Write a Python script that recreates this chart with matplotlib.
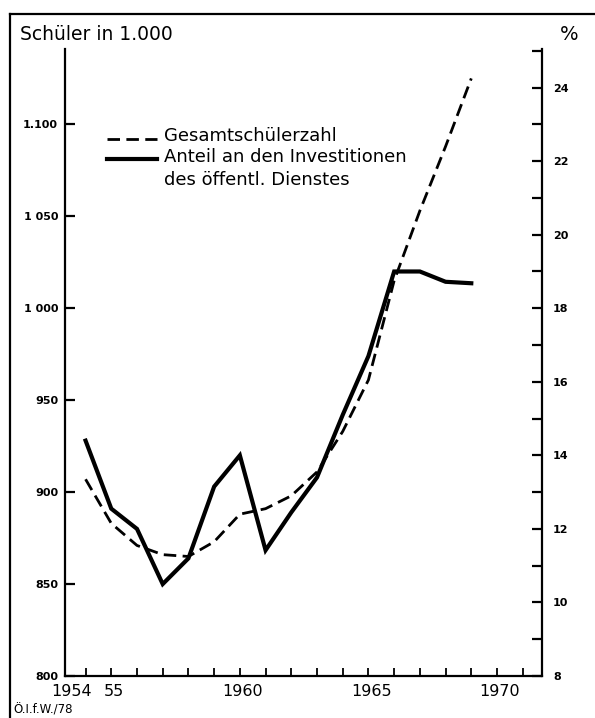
import numpy as np
import matplotlib
matplotlib.use("Agg")
import matplotlib.pyplot as plt
from matplotlib.lines import Line2D
from matplotlib.transforms import ScaledTranslation

# Data.
years = [1954, 1955, 1956, 1957, 1958, 1959, 1960, 1961,
         1962, 1963, 1964, 1965, 1966, 1967, 1968, 1969]
schueler = [907, 883, 871, 866, 865, 873, 888, 891,
            898, 911, 933, 961, 1015, 1053, 1088, 1125]  # in 1.000
anteil = [14.4, 12.55, 12.0, 10.5, 11.2, 13.15, 14.0, 11.42,
          12.45, 13.4, 15.1, 16.7, 19.0, 19.0, 18.72, 18.68]  # %

left_ticks = [800, 850, 900, 950, 1000, 1050, 1100]
left_labels = ["800", "850", "900", "950", "1 000", "1 050", "1.100"]
right_ticks = [8, 10, 12, 14, 16, 18, 20, 22, 24]
right_minor = [9, 11, 13, 15, 17, 19, 21, 23, 25]
x_ticks = list(range(1954, 1972))
x_labels = {1954: "1954", 1955: "55", 1960: "1960", 1965: "1965", 1970: "1970"}

legend_dashed = "Gesamtschülerzahl"
legend_solid = ["Anteil an den Investitionen", "des öffentl. Dienstes"]

W, H = 595, 718
fig = plt.figure(figsize=(W / 100, H / 100), dpi=100)
fig.patch.set_facecolor("white")

def fx(px):
    return px / W

def fy(py):
    return 1 - py / H

dash_style = dict(color="black", lw=2.0, dashes=(4.5, 2.3))

ax = fig.add_axes([fx(65), fy(676), fx(542) - fx(65), fy(49) - fy(676)])
ax2 = ax.twinx()

ax.plot(years, schueler, **dash_style)
ax2.plot(years, anteil, color="black", lw=3.0, solid_joinstyle="miter")

ax.set_xlim(1953.2, 1971.75)
ax.set_ylim(800, 1141)
ax2.set_ylim(8, 25.05)

for a in (ax, ax2):
    a.spines["top"].set_visible(False)
    for s in a.spines.values():
        s.set_linewidth(1.6)
ax.spines["right"].set_visible(False)
ax2.spines["left"].set_visible(False)
ax2.spines["bottom"].set_visible(False)

ax.set_yticks(left_ticks)
ax.set_yticklabels(left_labels)
ax.tick_params(axis="y", direction="in", length=7, width=1.6, pad=5,
               labelsize=8)
for t in ax.get_yticklabels():
    t.set_fontweight("bold")

ax2.set_yticks(right_ticks)
ax2.set_yticks(right_minor, minor=True)
ax2.tick_params(axis="y", which="both", direction="in", length=7, width=1.6,
                pad=8, labelsize=8)
for t in ax2.get_yticklabels():
    t.set_fontweight("bold")

ax.set_xticks(x_ticks)
ax.set_xticklabels([x_labels.get(y, "") for y in x_ticks])
ax.tick_params(axis="x", direction="in", length=6, width=1.3, pad=6,
               labelsize=11.5)
for y, t in zip(x_ticks, ax.get_xticklabels()):
    shift = -14 if y == 1954 else 3
    t.set_transform(t.get_transform() + ScaledTranslation(shift / 100, 0, fig.dpi_scale_trans))

# Axis titles
fig.text(fx(20), fy(35), "Schüler in 1.000", fontsize=13.5, ha="left", va="center")
fig.text(fx(569), fy(35), "%", fontsize=14, ha="center", va="center")
fig.text(fx(13), fy(710), "Ö.I.f.W./78", fontsize=8.5, ha="left", va="center")

# Legend drawn by hand so the solid sample sits on the first text line
fig.add_artist(Line2D([fx(107), fx(157)], [fy(139), fy(139)], **dash_style))
fig.add_artist(Line2D([fx(107), fx(157)], [fy(159), fy(159)], color="black",
                      lw=3.0))
fig.text(fx(164), fy(136), legend_dashed, fontsize=13, ha="left", va="center")
fig.text(fx(164), fy(157), legend_solid[0], fontsize=13, ha="left", va="center")
fig.text(fx(164), fy(180), legend_solid[1], fontsize=13, ha="left", va="center")

# Outer frame (left and top edge only)
fig.add_artist(Line2D([fx(10), fx(10)], [0, fy(14)], color="black", lw=1.6))
fig.add_artist(Line2D([fx(10), 1], [fy(14), fy(14)], color="black", lw=1.6))

fig.savefig("out.png", dpi=100, facecolor="white")
